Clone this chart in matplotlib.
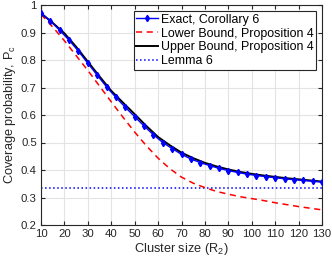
import numpy as np
import matplotlib
matplotlib.use('Agg')
import matplotlib.pyplot as plt

plt.rcParams['font.family'] = ['Liberation Sans', 'DejaVu Sans']
plt.rcParams['mathtext.fontset'] = 'custom'
plt.rcParams['mathtext.rm'] = 'Liberation Sans'
plt.rcParams['mathtext.it'] = 'Liberation Sans'

# exact result (Corollary 6), markers every 4
x_exact = [10, 14, 18, 22, 26, 30, 34, 38, 42, 46, 50, 54, 58, 62, 66, 70,
           74, 78, 82, 86, 90, 94, 98, 102, 106, 110, 114, 118, 122, 126, 130]
p_exact = [0.970, 0.942, 0.908, 0.872, 0.832, 0.788, 0.745, 0.702, 0.664,
           0.628, 0.594, 0.560, 0.528, 0.500, 0.478, 0.457, 0.440, 0.427,
           0.416, 0.406, 0.398, 0.391, 0.385, 0.380, 0.376, 0.372, 0.368,
           0.365, 0.362, 0.359, 0.356]

# bounds (Proposition 4)
x_bound = [10, 15, 20, 25, 30, 35, 40, 45, 50, 55, 60, 65, 70, 75, 80, 85,
           90, 95, 100, 105, 110, 115, 120, 125, 130]
p_lower = [0.966, 0.920, 0.870, 0.816, 0.762, 0.705, 0.648, 0.592, 0.538,
           0.488, 0.443, 0.405, 0.374, 0.352, 0.336, 0.322, 0.312, 0.303,
           0.296, 0.289, 0.281, 0.274, 0.267, 0.261, 0.255]
p_upper = [0.970, 0.935, 0.897, 0.848, 0.794, 0.740, 0.688, 0.645, 0.603,
           0.560, 0.520, 0.490, 0.463, 0.443, 0.426, 0.413, 0.402, 0.393,
           0.386, 0.380, 0.375, 0.370, 0.366, 0.362, 0.358]

# Lemma 6 (constant)
x_lemma = [10, 130]
p_lemma = [1 / 3, 1 / 3]

fig = plt.figure(figsize=(3.32, 2.59), dpi=100)
ax = fig.add_axes([41 / 332, 34 / 259, 281 / 332, 220 / 259])

ax.plot(x_exact, p_exact, '-', color='blue', marker='d', markersize=3.2,
        linewidth=1.0, label='Exact, Corollary 6', zorder=4)
ax.plot(x_bound, p_lower, '--', color='red', linewidth=1.1,
        dashes=(4, 3), label='Lower Bound, Proposition 4', zorder=3)
ax.plot(x_bound, p_upper, '-', color='black', linewidth=1.4,
        label='Upper Bound, Proposition 4', zorder=3)
ax.plot(x_lemma, p_lemma, ':', color='blue', linewidth=1.1,
        label='Lemma 6', zorder=2)

ax.set_xlim(10, 130)
ax.set_ylim(0.2, 1.0)
ax.set_xticks(np.arange(10, 131, 10))
ax.set_yticks(np.arange(0.2, 1.01, 0.1))
ax.set_yticklabels(['0.2', '0.3', '0.4', '0.5', '0.6', '0.7', '0.8', '0.9', '1'])

ax.grid(True, color='#e3e3e3', linewidth=0.8)
ax.set_axisbelow(True)
ax.tick_params(direction='in', top=True, right=True, length=3,
               labelsize=8.2, colors='#262626', pad=3)
for s in ax.spines.values():
    s.set_color('#262626')
    s.set_linewidth(0.8)

ax.set_xlabel(r'Cluster size (R$_2$)', fontsize=9.2, color='#262626', labelpad=1)
ax.set_ylabel(r'Coverage probability, P$_c$', fontsize=9.2, color='#262626',
              labelpad=2)

leg = ax.legend(loc='upper right', fontsize=8.9, frameon=True, fancybox=False,
                edgecolor='#262626', framealpha=1, borderaxespad=0.5,
                labelspacing=0.15, handlelength=1.8, handletextpad=0.2,
                borderpad=0.2)
leg.get_frame().set_linewidth(0.8)

fig.savefig('out.png', dpi=100)
